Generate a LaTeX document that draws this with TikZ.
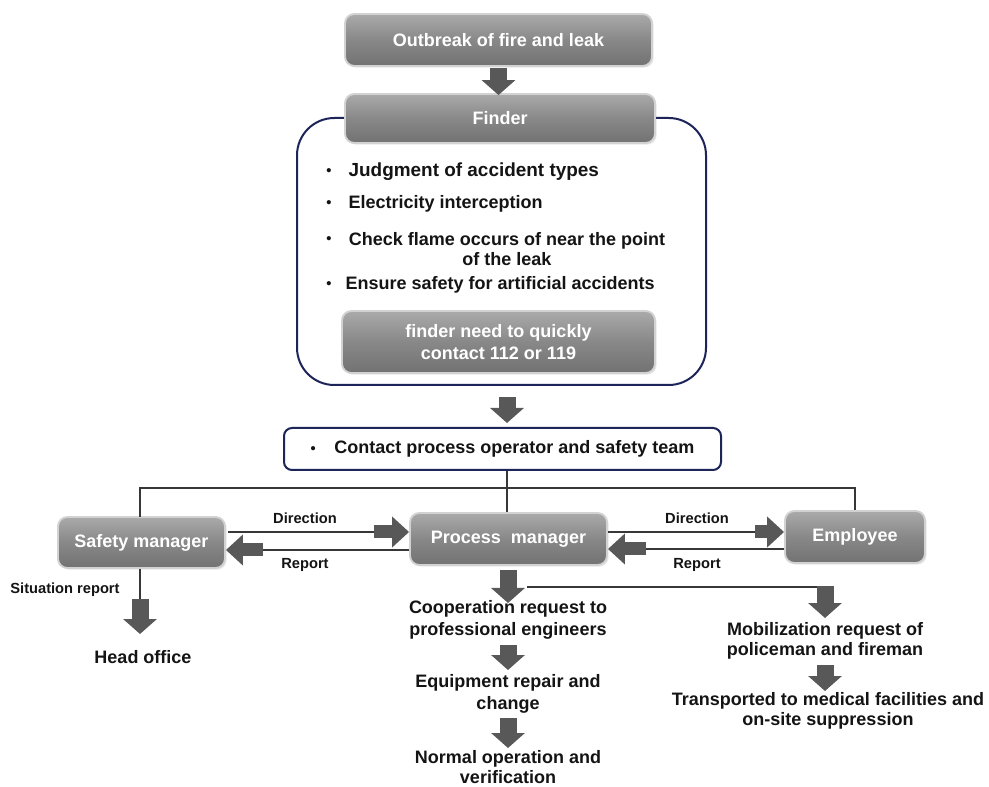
\documentclass[tikz,border=0pt]{standalone}
\usepackage{fontspec}
\setmainfont{Liberation Sans}
\usetikzlibrary{arrows.meta,calc,shadows}
\definecolor{navy}{RGB}{28,36,88}
\definecolor{boxtop}{RGB}{170,170,170}
\definecolor{boxmid}{RGB}{136,136,136}
\definecolor{boxbot}{RGB}{114,114,114}
\definecolor{boxrim}{RGB}{210,210,210}
\definecolor{arrowgray}{RGB}{88,88,88}
\definecolor{linegray}{RGB}{55,55,55}
\definecolor{ink}{RGB}{20,20,20}
\begin{document}
\begin{tikzpicture}[x=0.75pt,y=-0.75pt,
  graybox/.style={rounded corners=7pt, top color=boxtop, bottom color=boxbot,
    middle color=boxmid, draw=boxrim, line width=1.4pt, text=white,
    font=\bfseries\fontsize{13.5}{17}\selectfont, align=center, inner sep=0pt,
    drop shadow={opacity=0.18,shadow xshift=1.2pt,shadow yshift=-1.2pt}},
  navybox/.style={draw=navy, line width=1.5pt, fill=white, inner sep=0pt},
  txt/.style={font=\bfseries\fontsize{13.5}{16.5}\selectfont, text=ink,
    align=center, inner sep=1pt},
  small/.style={font=\bfseries\fontsize{11}{13}\selectfont, text=ink, inner sep=1pt},
  dot/.style={font=\bfseries\fontsize{11}{13}\selectfont, text=ink, inner sep=0pt},
  fat/.style={draw=arrowgray, line width=12.75pt,
    -{Triangle[width=24.75pt,length=11.25pt]}},
  fath/.style={draw=arrowgray, line width=9.75pt,
    -{Triangle[width=22.5pt,length=12.75pt]}},
  conn/.style={draw=linegray, line width=1.3pt},
]
\useasboundingbox[fill=white] (0,0) rectangle (989,787);

% finder panel with its checklist
\node[navybox, rounded corners=28pt, minimum width=306.75pt, minimum height=200.25pt]
  (panel) at (501.5,251.5) {};

\node[graybox, minimum width=230.25pt, minimum height=39pt] (outbreak) at (498.5,40)
  {Outbreak of fire and leak};
\node[graybox, minimum width=232.5pt, minimum height=36.75pt] (finder) at (500,118.5)
  {Finder};

\node[dot] (d1) at (329,172) {•};
\node[txt, anchor=west, font=\bfseries\fontsize{14.2}{17}\selectfont] (i1) at (347,172)
  {Judgment of accident types};
\node[dot] (d2) at (329,204) {•};
\node[txt, anchor=west] (i2) at (347,204) {Electricity interception};
\node[dot] (d3) at (329,240) {•};
\node[txt, font=\bfseries\fontsize{13.5}{15}\selectfont] (i3) at (507,249)
  {Check flame occurs of near the point\\of the leak};
\node[dot] (d4) at (329,285) {•};
\node[txt, anchor=west] (i4) at (344,285) {Ensure safety for artificial accidents};

\node[graybox, minimum width=234.75pt, minimum height=46.5pt] (call) at (498.5,342)
  {finder need to quickly\\contact 112 or 119};

% notification
\node[navybox, rounded corners=6pt, minimum width=327.75pt, minimum height=31.5pt,
  font=\bfseries\fontsize{13.5}{16}\selectfont, text=ink] (contact) at (502.5,449)
  {\fontsize{11}{13}\selectfont•\hspace{14pt}\fontsize{13.5}{16}\selectfont Contact process operator and safety team};

\draw[fat] (507,397) -- (507,423);
\draw[fat] (outbreak.south) ++(0,1) -- ([yshift=-1.5pt]finder.north -| outbreak.south);

% managers
\node[graybox, minimum width=125.25pt, minimum height=38.25pt] (sm) at (141.5,542.5)
  {Safety manager};
\node[graybox, minimum width=147.75pt, minimum height=39pt] (pm) at (508.5,539)
  {Process\ \ manager};
\node[graybox, minimum width=105pt, minimum height=39pt] (emp) at (855,537)
  {Employee};

% distribution bus
\coordinate (bus) at (507,488);
\draw[conn] (contact.south -| bus) -- (pm.north -| bus);
\draw[conn] (140,517) -- (140,488) -- (855,488) -- (emp.north);

% direction / report links
\draw[conn] (228,532) -- (376,532);
\draw[fath] (374,532) -- (pm.west |- 0,532);
\draw[conn] (260,550) -- (pm.west |- 0,550);
\draw[fath] (263,550) -- (sm.east |- 0,550);
\node[small] (dl) at (305,518) {Direction};
\node[small] (rl) at (305,565) {Report};

\draw[conn] (pm.east |- 0,532) -- (757,532);
\draw[fath] (755,532) -- (emp.west |- 0,532);
\draw[conn] (643,549) -- (emp.west |- 0,549);
\draw[fath] (646,549) -- (pm.east |- 0,549);
\node[small] (dr) at (697,518) {Direction};
\node[small] (rr) at (697,565) {Report};

% safety manager branch
\node[small] (sit) at (65,590) {Situation report};
\node[txt] (ho) at (143,657) {Head office};
\coordinate (smdrop) at (140,600);
\draw[conn] (sm.south -| smdrop) -- (smdrop);
\draw[fat] (140,599) -- (140,634);

% process manager branch
\node[txt] (coop) at (508,620) {Cooperation request to\\professional engineers};
\node[txt] (equip) at (508,694) {Equipment repair and\\change};
\node[txt, font=\bfseries\fontsize{13.5}{15.5}\selectfont] (normal) at (508,767)
  {Normal operation and\\verification};
\draw[fat] (508,570) -- (508,603);
\draw[fat] (508,645) -- (508,670);
\draw[fat] (508,718) -- (508,748);

\coordinate (split) at (527,587);
\node[txt, font=\bfseries\fontsize{13.5}{15.5}\selectfont] (mob) at (825,641)
  {Mobilization request of\\policeman and fireman};
\node[txt, font=\bfseries\fontsize{13.5}{15.5}\selectfont] (trans) at (828,711)
  {Transported to medical facilities and\\on-site suppression};
\draw[conn] (split) -- (825,587);
\draw[fat] (825,586) -- (825,618);
\draw[fat] (825,665) -- (825,691);
\end{tikzpicture}
\end{document}
